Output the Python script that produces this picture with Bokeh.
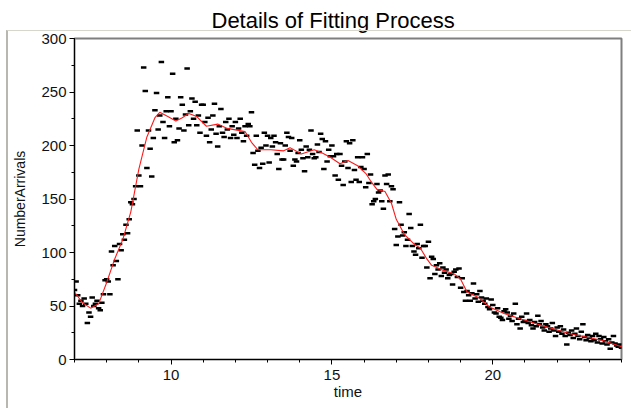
import numpy as np
from bokeh.plotting import figure
from bokeh.models import Range1d, SingleIntervalTicker, ColumnDataSource, InlineStyleSheet
from bokeh.embed import file_html
from bokeh.resources import INLINE

# ---- data -------------------------------------------------------------
t_start = 7.0
t_step = 0.05
arrivals = [
    # 7.00 - 7.95
    65, 73, 60, 52, 55, 50, 57, 52, 34, 44, 40, 58, 50, 52, 55, 48, 46, 53, 61, 74,
    # 8.00 - 8.95
    75, 73, 61, 101, 88, 106, 92, 75, 108, 102, 117, 112, 126, 118, 131, 147, 145, 150, 162, 214,
    # 9.00 - 9.95
    172, 162, 200, 273, 251, 179, 214, 197, 171, 207, 233, 249, 215, 228, 278, 222, 207, 232, 245, 218,
    # 10.00 - 10.95
    232, 267, 203, 225, 205, 216, 245, 238, 214, 229, 272, 219, 232, 244, 225, 241, 219, 228, 212, 238,
    # 11.00 - 11.95
    238, 222, 209, 226, 203, 215, 228, 239, 211, 199, 218, 234, 212, 208, 222, 215, 225, 207, 218, 210,
    # 12.00 - 12.95
    222, 207, 216, 225, 212, 204, 218, 209, 220, 218, 231, 193, 182, 209, 195, 179, 198, 183, 212, 200,
    # 13.00 - 13.95
    209, 184, 207, 199, 209, 203, 192, 178, 202, 187, 187, 200, 212, 208, 195, 207, 181, 187, 185, 193,
    # 14.00 - 14.95
    205, 196, 188, 176, 199, 189, 196, 214, 192, 188, 189, 201, 194, 211, 206, 178, 204, 185, 196, 190,
    # 15.00 - 15.95
    200, 190, 172, 192, 168, 192, 181, 163, 185, 204, 179, 202, 166, 205, 177, 168, 189, 166, 180, 189,
    # 16.00 - 16.95
    178, 161, 192, 165, 173, 145, 148, 150, 164, 156, 158, 148, 141, 172, 164, 173, 148, 162, 159, 122,
    # 17.00 - 17.95
    107, 115, 147, 126, 116, 119, 106, 112, 136, 123, 106, 101, 98, 108, 104, 126, 95, 106, 106, 86,
    # 18.00 - 18.95
    110, 76, 96, 94, 80, 88, 84, 90, 78, 86, 81, 84, 76, 79, 80, 70, 82, 84, 77, 85,
    # 19.00 - 19.95
    67, 76, 63, 55, 64, 60, 55, 62, 71, 57, 61, 54, 64, 58, 55, 52, 57, 49, 47, 56,
    # 20.00 - 20.95
    51, 44, 43, 48, 40, 39, 37, 45, 47, 44, 38, 41, 36, 43, 52, 33, 38, 29, 40, 35,
    # 21.00 - 21.95
    36, 43, 34, 37, 32, 29, 35, 31, 41, 33, 36, 30, 27, 33, 31, 26, 29, 34, 27, 22,
    # 22.00 - 22.95
    30, 26, 31, 24, 28, 22, 14, 25, 23, 27, 20, 24, 29, 22, 19, 26, 33, 21, 18, 23,
    # 23.00 - 24.00
    20, 17, 22, 18, 24, 16, 22, 19, 15, 21, 17, 14, 19, 10, 16, 22, 15, 13, 12, 14,
    11,
]
time = np.round(t_start + t_step * np.arange(len(arrivals)), 2)

fit_time = [7.0, 7.25, 7.5, 7.75, 8.0, 8.25, 8.5, 8.75, 9.0, 9.25, 9.5, 9.65, 9.9,
            10.15, 10.35, 10.55, 10.8, 11.1, 11.45, 11.75, 12.3, 12.5, 12.7, 13.1,
            13.5, 13.7, 14.05, 14.45, 14.7, 14.95, 15.25, 15.5, 15.8, 16.05, 16.2,
            16.4, 16.65, 16.85, 17.0, 17.25, 17.55, 17.75, 17.95, 18.1, 18.4, 18.8,
            19.0, 19.2, 19.55, 19.9, 20.35, 20.85, 21.4, 21.9, 22.4, 22.9, 23.45, 24.0]
fit_value = [63, 53, 48, 52, 72, 94, 112, 138, 178, 208, 226, 231, 227,
             223, 226, 230, 227, 218, 220, 216, 213, 203, 196, 196,
             195, 198, 192, 196, 193, 189, 183, 186, 181, 174, 167,
             159, 157, 146, 131, 117, 108, 104, 94, 88, 84, 80,
             75, 63, 58, 49, 43, 38, 33, 28.5, 24, 21, 17.5, 12]

title_text = "Details of Fitting Process"
x_label = "time"
y_label = "NumberArrivals"

# ---- figure -----------------------------------------------------------
FONT = "Liberation Sans"
p = figure(width=631, height=408, output_backend="svg", toolbar_location=None,
           x_range=Range1d(7, 24), y_range=Range1d(0, 300),
           min_border_left=74, min_border_right=10, min_border_top=37,
           min_border_bottom=49)

p.title.text = title_text
p.title.align = "left"
p.title.offset = 137
p.title.text_font = FONT
p.title.text_font_size = "22px"
p.title.text_font_style = "normal"
p.title.text_color = "#000000"
p.title.standoff = 11

p.background_fill_color = "white"
p.border_fill_color = "white"
p.outline_line_color = "#7f7f7f"
p.outline_line_width = 2

p.xgrid.grid_line_color = None
p.ygrid.grid_line_color = None

p.xaxis.ticker = SingleIntervalTicker(interval=5, num_minor_ticks=5)
p.yaxis.ticker = SingleIntervalTicker(interval=50, num_minor_ticks=2)

for ax in (p.xaxis[0], p.yaxis[0]):
    ax.axis_line_color = "black"
    ax.axis_line_width = 1
    ax.major_tick_line_color = "black"
    ax.minor_tick_line_color = "black"
    ax.major_tick_in = 0
    ax.major_tick_out = 5
    ax.minor_tick_in = 0
    ax.minor_tick_out = 3
    ax.major_label_text_font = FONT
    ax.major_label_text_font_size = "15px"
    ax.major_label_text_color = "#111111"
    ax.axis_label_text_font = FONT
    ax.axis_label_text_font_style = "normal"
    ax.axis_label_text_color = "#111111"

p.xaxis.axis_label = x_label
p.xaxis.axis_label_text_font_size = "15px"
p.xaxis.major_label_standoff = 5
p.xaxis.axis_label_standoff = 0

p.yaxis.axis_label = y_label
p.yaxis.axis_label_text_font_size = "14px"
p.yaxis.major_label_standoff = 3
p.yaxis.axis_label_standoff = 10

src = ColumnDataSource(dict(time=time, arrivals=arrivals))
p.rect(x="time", y="arrivals", width=5.5, height=2.5, width_units="screen",
       height_units="screen", source=src, fill_color="black", line_color=None)

fit_src = ColumnDataSource(dict(t=fit_time, v=fit_value))
p.line(x="t", y="v", source=fit_src, line_color="#ff1a1a", line_width=1.1)

# outer light frame of the chart panel (left and top edges)
p.stylesheets = [InlineStyleSheet(css="""
:host::after {
  content: "";
  position: absolute;
  left: 6px; top: 30px; right: 0px; bottom: 0px;
  border-top: 1px solid #d6d6cc;
  border-left: 2px solid #b8b8b0;
  pointer-events: none;
}
""")]

open("out.html", "w").write(file_html(p, INLINE))
